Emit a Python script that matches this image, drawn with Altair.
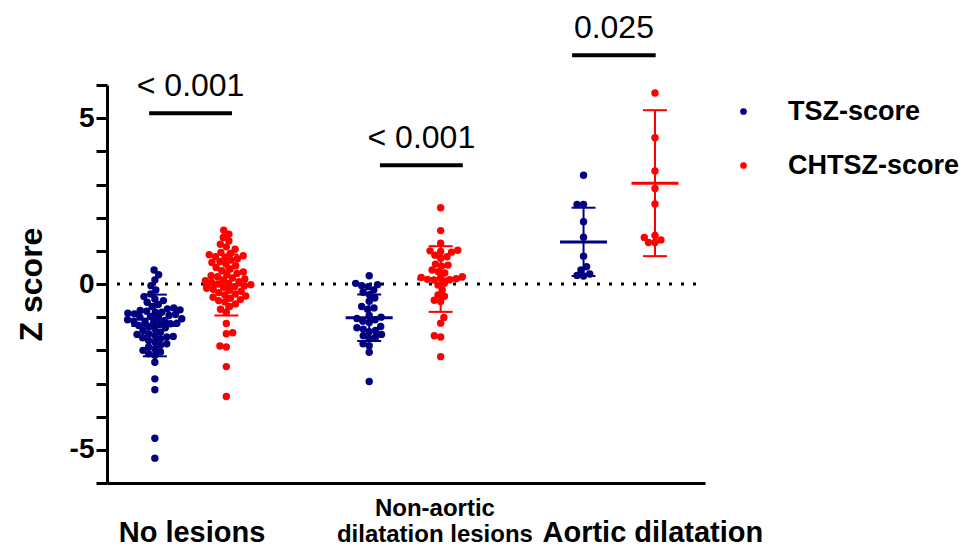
import altair as alt
import pandas as pd
import numpy as np

# ---------------- data ----------------
groups = ["No lesions", "Non-aortic\ndilatation lesions", "Aortic dilatation"]
series = ["TSZ-score", "CHTSZ-score"]
colors = ["#000080", "#FF0000"]

no_lesions_tsz = [0.42, 0.28, 0.12, -0.05, -0.18, -0.30, -0.38, -0.45, -0.50, -0.55, -0.62,
                  -0.68, -0.72, -0.75, -0.78, -0.80, -0.82, -0.85, -0.85, -0.88, -0.90, -0.92,
                  -0.95, -0.98, -1.00, -1.02, -1.05, -1.08, -1.10, -1.12, -1.12, -1.15, -1.18,
                  -1.20, -1.22, -1.25, -1.28, -1.32, -1.35, -1.40, -1.45, -1.50, -1.52, -1.55,
                  -1.58, -1.60, -1.62, -1.65, -1.70, -1.75, -1.80, -1.85, -1.90, -1.95, -2.00,
                  -2.05, -2.10, -2.15, -2.36, -2.86, -3.19, -4.65, -5.25]
no_lesions_chtsz = [1.62, 1.50, 1.40, 1.30, 1.20, 1.12, 1.05, 0.95, 0.92, 0.88, 0.85, 0.82,
                    0.80, 0.76, 0.72, 0.68, 0.65, 0.60, 0.55, 0.50, 0.45, 0.40, 0.36, 0.32,
                    0.28, 0.25, 0.22, 0.18, 0.15, 0.12, 0.10, 0.07, 0.05, 0.02, 0.00, -0.02,
                    -0.05, -0.08, -0.10, -0.13, -0.16, -0.19, -0.22, -0.26, -0.30, -0.33,
                    -0.36, -0.40, -0.43, -0.47, -0.50, -0.54, -0.60, -0.68, -0.76, -0.85,
                    -1.19, -1.47, -1.50, -1.87, -1.90, -2.49, -3.39]
non_aortic_tsz = [0.25, 0.02, -0.02, -0.05, -0.08, -0.18, -0.25, -0.32, -0.42, -0.52, -0.68,
                  -0.72, -0.76, -0.95, -1.00, -1.04, -1.08, -1.12, -1.16, -1.28, -1.32, -1.36,
                  -1.40, -1.44, -1.52, -1.56, -1.60, -1.64, -1.80, -1.86, -2.06, -2.94]
non_aortic_chtsz = [2.30, 1.61, 1.23, 1.02, 1.00, 0.98, 0.96, 0.87, 0.82, 0.78, 0.60, 0.57,
                    0.54, 0.42, 0.37, 0.33, 0.22, 0.20, 0.18, 0.16, 0.14, 0.13, 0.12, 0.02,
                    -0.03, -0.18, -0.33, -0.37, -0.49, -0.53, -1.01, -1.18, -1.56, -1.60, -2.19]
aortic_tsz = [3.28, 2.40, 2.40, 1.88, 1.41, 0.84, 0.52, 0.42, 0.30, 0.26, 0.24]
aortic_chtsz = [5.76, 4.41, 3.41, 2.88, 2.41, 1.46, 1.40, 1.33, 1.25, 1.25]

# mean and SD of each column, in the order (group, series)
means = [-1.25, -0.03, -1.02, 0.15, 1.27, 3.04]
sds = [0.93, 0.92, 0.70, 0.99, 1.03, 2.20]

# significance annotations
sig_labels = ["< 0.001", "< 0.001", "0.025"]
sig_x1 = [0.92, 4.15, 6.84]
sig_x2 = [2.08, 5.31, 8.01]
sig_y = [5.15, 3.58, 6.90]

# category label positions on the x scale
label_x = [1.52, 4.92, 7.97]

# ---------------- layout ----------------
W, H = 598, 398
XMIN, XMAX = 0.33, 8.70
YMIN, YMAX = -6, 6
PX_X = W / (XMAX - XMIN)
PX_Y = H / (YMAX - YMIN)
FONT = "Liberation Sans"


def beeswarm(vals, d=6.5):
    order = np.argsort(vals)
    placed = []
    offs = [0.0] * len(vals)
    toggle = 1
    for i in order:
        y = vals[i] * PX_Y
        cands = [0.0]
        for px, py in placed:
            dy = y - py
            if abs(dy) < d:
                dx = (d * d - dy * dy) ** 0.5
                cands += [px + dx, px - dx]
        cands = sorted(cands, key=lambda c: (round(abs(c), 2), toggle * c))
        best = 0.0
        for c in cands:
            if all((c - px) ** 2 + (y - py) ** 2 >= d * d - 1e-6 for px, py in placed):
                best = c
                break
        if best != 0:
            toggle = -toggle
        placed.append((best, y))
        offs[i] = best / PX_X
    return offs


columns = [no_lesions_tsz, no_lesions_chtsz, non_aortic_tsz,
           non_aortic_chtsz, aortic_tsz, aortic_chtsz]
rows, summ, caps = [], [], []
for k, vals in enumerate(columns):
    g, s = divmod(k, 2)
    base = g * 3 + 1 + s
    for v, o in zip(vals, beeswarm(vals)):
        rows.append({"group": groups[g], "series": series[s], "value": v, "xpos": base + o})
    m, sd = means[k], sds[k]
    summ.append({"xpos": base, "mean": m, "lo": m - sd, "hi": m + sd, "hex": colors[s]})
    caps.append({"xpos": base, "y": m - sd, "hex": colors[s]})
    caps.append({"xpos": base, "y": m + sd, "hex": colors[s]})

pts_df = pd.DataFrame(rows)
sum_df = pd.DataFrame(summ)
cap_df = pd.DataFrame(caps)
sig_df = pd.DataFrame({"label": sig_labels, "x1": sig_x1, "x2": sig_x2, "y": sig_y,
                       "xm": [(a + b) / 2 for a, b in zip(sig_x1, sig_x2)]})
lab_df = pd.DataFrame({"label": groups, "x": label_x, "y0": [YMIN] * len(groups),
                       "lines": [g.count("\n") + 1 for g in groups]})

xs = alt.Scale(domain=[XMIN, XMAX], nice=False, zero=False)
ys = alt.Scale(domain=[YMIN, YMAX], nice=False, zero=False)

x_axis = alt.Axis(title=None, labels=False, ticks=False, grid=False,
                  domainColor="black", domainWidth=3)
y_axis = alt.Axis(title="Z score", values=list(range(-6, 7)),
                  labelExpr="datum.value % 5 === 0 ? '' + datum.value : ''",
                  grid=False, domainColor="black", domainWidth=3,
                  tickColor="black", tickWidth=3, tickSize=11,
                  labelFont=FONT, labelFontSize=28, labelFontWeight="bold",
                  labelColor="black", labelPadding=2,
                  titleFont=FONT, titleFontSize=32, titleFontWeight="bold",
                  titleColor="black", titlePadding=21)


def X(field):
    return alt.X(field, scale=xs, axis=x_axis)


def Y(field):
    return alt.Y(field, scale=ys, axis=y_axis)


zero_line = alt.Chart(pd.DataFrame({"z": [0]})).mark_rule(
    color="black", strokeWidth=3, strokeDash=[3, 9], strokeDashOffset=-9
).encode(y=Y("z:Q"))

points = alt.Chart(pts_df).mark_circle(size=55, opacity=1).encode(
    x=X("xpos:Q"),
    y=Y("value:Q"),
    color=alt.Color("series:N", scale=alt.Scale(domain=series, range=colors),
                    legend=alt.Legend(title=None, orient="none", legendX=623, legendY=13,
                                      labelFont=FONT, labelFontSize=27,
                                      labelFontWeight="bold", labelColor="black",
                                      labelLimit=400,
                                      symbolType="circle", symbolSize=45,
                                      symbolStrokeWidth=0, labelOffset=31,
                                      rowPadding=26, padding=0)),
)

vbar = alt.Chart(sum_df).mark_rule(strokeWidth=2, opacity=1).encode(
    x=X("xpos:Q"), y=Y("lo:Q"), y2="hi:Q",
    color=alt.Color("hex:N", scale=None),
)
mean_tick = alt.Chart(sum_df).mark_tick(orient="horizontal", size=47, thickness=3,
                                        opacity=1).encode(
    x=X("xpos:Q"), y=Y("mean:Q"),
    color=alt.Color("hex:N", scale=None),
)
cap_tick = alt.Chart(cap_df).mark_tick(orient="horizontal", size=24, thickness=2,
                                       opacity=1).encode(
    x=X("xpos:Q"), y=Y("y:Q"),
    color=alt.Color("hex:N", scale=None),
)

sig_bar = alt.Chart(sig_df).mark_rule(color="black", strokeWidth=4).encode(
    x=X("x1:Q"), x2="x2:Q", y=Y("y:Q"),
)
sig_text = alt.Chart(sig_df).mark_text(font=FONT, fontSize=32, color="black",
                                       baseline="alphabetic", dy=-17).encode(
    x=X("xm:Q"), y=Y("y:Q"), text="label:N",
)

cat_one = alt.Chart(lab_df).transform_filter("datum.lines == 1").mark_text(
    font=FONT, fontSize=29, fontWeight="bold", color="black",
    baseline="middle", dy=50).encode(x=X("x:Q"), y=Y("y0:Q"), text="label:N")
cat_two = alt.Chart(lab_df).transform_filter("datum.lines > 1").mark_text(
    font=FONT, fontSize=24, fontWeight="bold", color="black",
    baseline="middle", lineBreak="\n", lineHeight=26, dy=26).encode(
    x=X("x:Q"), y=Y("y0:Q"), text="label:N")

chart = alt.layer(zero_line, points, vbar, mean_tick, cap_tick, sig_bar, sig_text,
                  cat_one, cat_two).properties(
    width=W, height=H,
    autosize=alt.AutoSizeParams(type="none"),
    padding={"left": 99, "top": 77, "right": 257, "bottom": 66},
).configure_view(stroke=None)

chart.save("out.html", embed_options={"renderer": "svg", "actions": False})
